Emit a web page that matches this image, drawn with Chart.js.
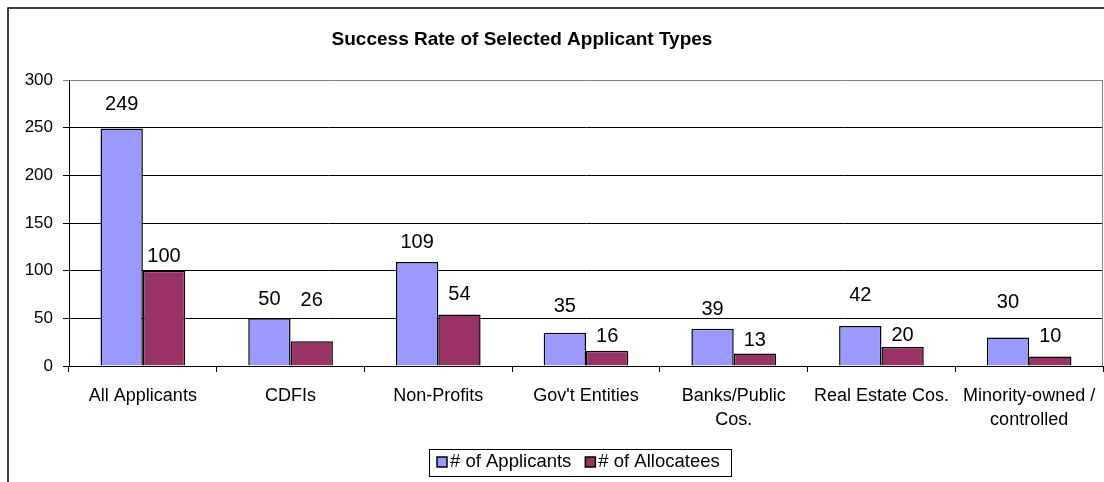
<!DOCTYPE html>
<html>
<head>
<meta charset="utf-8">
<script src="https://cdn.jsdelivr.net/npm/chart.js@4.4.1/dist/chart.umd.min.js"></script>
<style>
  body { margin: 0; background: #fff; }
  canvas { display: block; }
</style>
</head>
<body>
<canvas id="success-rate-chart" width="1104" height="482"></canvas>
<script>
let applicant_types = ["All Applicants", "CDFIs", "Non-Profits", "Gov't Entities",
  ["Banks/Public", "Cos."], "Real Estate Cos.", ["Minority-owned /", "controlled"]];
let num_applicants = [249, 50, 109, 35, 39, 42, 30];
let num_allocatees = [100, 26, 54, 16, 13, 20, 10];
let y_ticks = [0, 50, 100, 150, 200, 250, 300];

// labels in the original sit at uneven heights above the bars (px above bar top)
let applicant_label_lift = [24, 19, 20, 26, 19, 30, 35];
let allocatee_label_lift = [14, 41, 20, 14, 13, 11, 20];

let blue_bar = "#9999FF";
let plum_bar = "#993366";
let font_face = "Arial, 'Liberation Sans', sans-serif";

let chart_frame = {
  id: 'chart_frame',
  beforeDraw(chart){
    let ctx = chart.ctx;
    ctx.save();
    ctx.strokeStyle = "#000";
    ctx.lineWidth = 1.5;
    ctx.beginPath();
    ctx.moveTo(8, chart.height);
    ctx.lineTo(8, 8);
    ctx.lineTo(chart.width, 8);
    ctx.stroke();
    ctx.fillStyle = "#000";
    ctx.font = "bold 19px " + font_face;
    ctx.textAlign = "center";
    ctx.textBaseline = "middle";
    ctx.fillText("Success Rate of Selected Applicant Types", 522, 40);
    ctx.restore();
  },
  afterDraw(chart){
    let ctx = chart.ctx;
    let area = chart.chartArea;
    ctx.save();
    ctx.strokeStyle = "#808080";
    ctx.lineWidth = 1;
    ctx.beginPath();
    ctx.moveTo(Math.round(area.right) - 0.5, area.top);
    ctx.lineTo(Math.round(area.right) - 0.5, area.bottom);
    ctx.stroke();

    // legend, Excel style, with a box round it
    ctx.font = "18.5px " + font_face;
    ctx.textBaseline = "middle";
    ctx.textAlign = "left";
    let x = 437;
    let mid = 462;
    chart.data.datasets.forEach(function(ds){
      ctx.fillStyle = ds.backgroundColor;
      ctx.fillRect(x, mid - 5, 10, 10);
      ctx.strokeStyle = "#000";
      ctx.lineWidth = 1.5;
      ctx.strokeRect(x, mid - 5, 10, 10);
      ctx.fillStyle = "#000";
      ctx.fillText(ds.label, x + 13, mid);
      x += 13 + ctx.measureText(ds.label).width + 14;
    });
    ctx.strokeStyle = "#000";
    ctx.lineWidth = 1;
    ctx.strokeRect(429.5, 449.5, Math.round(x - 3) - 429, 27);
    ctx.restore();
  }
};

let bar_values = {
  id: 'bar_values',
  afterDatasetsDraw(chart){
    let ctx = chart.ctx;
    let lifts = [applicant_label_lift, allocatee_label_lift];
    ctx.save();
    ctx.fillStyle = "#000";
    ctx.font = "20px " + font_face;
    ctx.textAlign = "center";
    ctx.textBaseline = "middle";
    chart.data.datasets.forEach(function(ds, d){
      chart.getDatasetMeta(d).data.forEach(function(bar, i){
        ctx.fillText(String(ds.data[i]), bar.x, bar.y - lifts[d][i]);
      });
    });
    ctx.restore();
  }
};

function success_rate_graph(){
  let ctx = document.getElementById('success-rate-chart').getContext('2d');
  let newBar = new Chart(ctx,
  {
    type: 'bar',
    data: {
      labels: applicant_types,
      datasets: [{
        label: "# of Applicants",
        data: num_applicants,
        backgroundColor: blue_bar,
        borderColor: "#000",
        borderWidth: 1.5,
        borderSkipped: 'bottom'
      }, {
        label: "# of Allocatees",
        data: num_allocatees,
        backgroundColor: plum_bar,
        borderColor: "#000",
        borderWidth: 1.5,
        borderSkipped: 'bottom'
      }]
    },
    options: {
      responsive: false,
      animation: false,
      layout: {
        padding: { left: 0, right: 0, top: 80, bottom: 38 }
      },
      datasets: {
        bar: { categoryPercentage: 0.573, barPercentage: 1.0 }
      },
      scales: {
        x: {
          offset: true,
          grid: {
            drawOnChartArea: false,
            drawTicks: true,
            tickLength: 6,
            color: "#000"
          },
          border: { color: "#000", width: 1 },
          ticks: {
            color: "#000",
            padding: 12,
            maxRotation: 0,
            autoSkip: false,
            font: { family: font_face, size: 18, lineHeight: 1.33 }
          },
          afterFit(scale){
            scale.height = 78;
            scale.paddingLeft = 0;
            scale.paddingRight = 1;
          }
        },
        y: {
          min: y_ticks[0],
          max: y_ticks[y_ticks.length - 1],
          afterBuildTicks(scale){ scale.ticks = y_ticks.map(v => ({ value: v })); },
          grid: {
            tickLength: 6,
            color: (c) => c.tick && c.tick.value === 300 ? "#808080" : "#000"
          },
          border: { color: "#000", width: 1 },
          ticks: {
            color: "#000",
            padding: 10,
            font: { family: font_face, size: 17 }
          },
          afterFit(scale){ scale.width = 69; }
        }
      },
      plugins: {
        title: { display: false },
        tooltip: { enabled: false },
        legend: { display: false }
      }
    },
    plugins: [chart_frame, bar_values]
  });
}

success_rate_graph();
</script>
</body>
</html>
